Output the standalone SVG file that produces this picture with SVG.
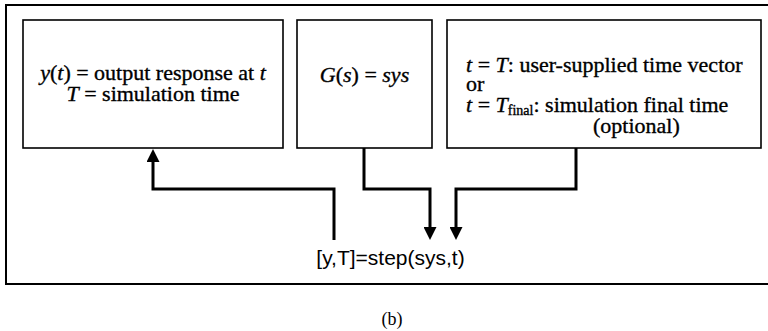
<svg xmlns="http://www.w3.org/2000/svg" width="768" height="331" viewBox="0 0 768 331">
<style>
.box{fill:#fff;stroke:#000;stroke-width:1.6}
.frame{fill:none;stroke:#000;stroke-width:2}
.wire{fill:none;stroke:#000;stroke-width:3}
.t{font-family:"Liberation Serif","Times New Roman",serif;font-size:22px;fill:#000;stroke:#000;stroke-width:0.35}
.i{font-style:italic}
.code{font-family:"Liberation Sans",Arial,sans-serif;font-size:21px;fill:#000}
.cap{font-family:"Liberation Serif","Times New Roman",serif;font-size:18px;fill:#000}
</style>
<defs>
<marker id="ah" viewBox="0 0 13 13" refX="0" refY="6.5" markerWidth="13" markerHeight="13" markerUnits="userSpaceOnUse" orient="auto">
<path d="M0,0 L13,6.5 L0,13 z" fill="#000"/>
</marker>
</defs>
<rect width="768" height="331" fill="#fff"/>
<path class="frame" d="M770 5 H6 V284 H770"/>
<g id="output">
<rect class="box" x="23" y="20" width="260" height="128"/>
<text class="t" x="153" y="80" text-anchor="middle"><tspan class="i">y</tspan>(<tspan class="i">t</tspan>) = output response at <tspan class="i">t</tspan></text>
<text class="t" x="153" y="101" text-anchor="middle"><tspan class="i">T</tspan> = simulation time</text>
</g>
<g id="system">
<rect class="box" x="297" y="20" width="135" height="128"/>
<text class="t" x="364.5" y="82" text-anchor="middle"><tspan class="i">G</tspan>(<tspan class="i">s</tspan>) = <tspan class="i">sys</tspan></text>
</g>
<g id="time">
<rect class="box" x="447" y="20" width="314" height="128"/>
<text class="t" x="466" y="72"><tspan class="i">t</tspan> = <tspan class="i">T</tspan>: user-supplied time vector</text>
<text class="t" x="466" y="91">or</text>
<text class="t" x="466" y="112"><tspan class="i">t</tspan> = <tspan class="i">T</tspan><tspan font-size="14" dy="3">final</tspan><tspan dy="-3">: simulation final time</tspan></text>
<text class="t" x="593" y="133">(optional)</text>
</g>
<g id="command">
<text class="code" x="390.5" y="265" text-anchor="middle">[y,T]=step(sys,t)</text>
</g>
<g id="connectors">
<path class="wire" d="M334 240 V189 H153 V162" marker-end="url(#ah)"/>
<path class="wire" d="M364 148 V189 H430 V227" marker-end="url(#ah)"/>
<path class="wire" d="M576 148 V189 H456 V227" marker-end="url(#ah)"/>
</g>
<text class="cap" x="392" y="325" text-anchor="middle">(b)</text>
</svg>
